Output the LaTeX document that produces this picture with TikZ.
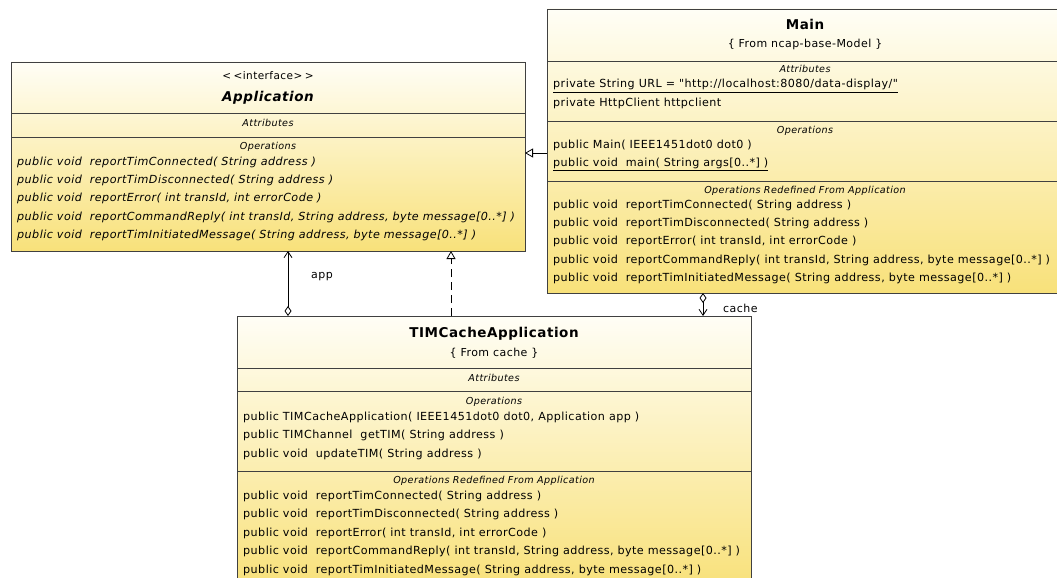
\documentclass[tikz,border=0pt]{standalone}
\usepackage{fontspec}
\setmainfont{DejaVu Sans}[Ligatures=TeXOff, LetterSpace=4]
\usetikzlibrary{arrows.meta}
\definecolor{boxtop}{HTML}{FFFEF6}
\definecolor{boxbot}{HTML}{F8E17A}
\definecolor{edge}{HTML}{404040}
\tikzset{
 umlbox/.style={draw=edge, line width=0.9pt, top color=boxtop, bottom color=boxbot, anchor=north west, inner sep=0pt, outer sep=0pt},
 sep/.style={draw=edge, line width=0.9pt},
 row/.style={anchor=base west, inner sep=0pt, font=\fontsize{11.15}{12}\selectfont},
 irow/.style={anchor=base west, inner sep=0pt, font=\fontsize{11.15}{12}\selectfont\itshape},
 sect/.style={anchor=base, inner sep=0pt, font=\fontsize{9.6}{10}\selectfont\itshape},
 ttl/.style={anchor=base, inner sep=0pt, font=\fontsize{13.5}{15}\selectfont\bfseries},
 sub/.style={anchor=base, inner sep=0pt, font=\fontsize{11}{12}\selectfont},
 conn/.style={draw=black, line width=0.8pt},
 lbl/.style={anchor=base west, inner sep=0pt, font=\fontsize{11}{12}\selectfont},
 navtip/.tip={Straight Barb[length=6pt,width=8pt,line width=0.8pt]},
 aggtip/.tip={Diamond[open,length=10pt,width=7pt,line width=0.8pt]},
 gentip/.tip={Triangle[open,length=8pt,width=9pt,line width=0.8pt,fill=white]},
}
\begin{document}
\begin{tikzpicture}[x=1pt,y=-1pt]
\useasboundingbox (0,0) rectangle (1057,578);
\fill[white] (0,0) rectangle (1057,578);

% ---------- Application ----------
\node[umlbox, minimum width=514, minimum height=189] (appI) at (11,62) {};
\draw[sep] (11,113) -- (525,113);
\draw[sep] (11,137) -- (525,137);
\node[sub, font=\fontsize{10.5}{12}\selectfont] (appS) at (268,80) {<\kern2.5pt<interface>\kern2.5pt>};
\node[ttl, font=\fontsize{13.5}{15}\selectfont\bfseries\itshape] (appT) at (268,101) {Application};
\node[sect] (appA) at (268,126) {Attributes};
\node[sect] (appO) at (268,149) {Operations};
\node[irow] (ap1) at (17,165) {public void~~reportTimConnected( String address )};
\node[irow] (ap2) at (17,183) {public void~~reportTimDisconnected( String address )};
\node[irow] (ap3) at (17,201) {public void~~reportError( int transId, int errorCode )};
\node[irow] (ap4) at (17,220) {public void~~reportCommandReply( int transId, String address, byte message[0..*] )};
\node[irow] (ap5) at (17,238) {public void~~reportTimInitiatedMessage( String address, byte message[0..*] )};

% ---------- Main ----------
\node[umlbox, minimum width=516, minimum height=284] (mainC) at (547,9) {};
\draw[sep] (547,61) -- (1063,61);
\draw[sep] (547,121) -- (1063,121);
\draw[sep] (547,181) -- (1063,181);
\node[ttl] (mainT) at (805,30) {Main};
\node[sub] (mainS) at (805,48) {\{ From ncap-base-Model \}};
\node[sect] (mainA) at (805,73) {Attributes};
\node[row] (ma1) at (553,88) {\underline{private String URL = "http://localhost:8080/data-display/"}};
\node[row] (ma2) at (553,106) {private HttpClient httpclient};
\node[sect] (mainO) at (805,133) {Operations};
\node[row] (mo1) at (553,148) {public Main( IEEE1451dot0 dot0 )};
\node[row] (mo2) at (553,166) {\underline{public void~~main( String args[0..*] )}};
\node[sect] (mainR) at (805,193) {Operations Redefined From Application};
\node[row] (mr1) at (553,208) {public void~~reportTimConnected( String address )};
\node[row] (mr2) at (553,226) {public void~~reportTimDisconnected( String address )};
\node[row] (mr3) at (553,244) {public void~~reportError( int transId, int errorCode )};
\node[row] (mr4) at (553,263) {public void~~reportCommandReply( int transId, String address, byte message[0..*] )};
\node[row] (mr5) at (553,281) {public void~~reportTimInitiatedMessage( String address, byte message[0..*] )};

% ---------- TIMCacheApplication ----------
\node[umlbox, minimum width=514, minimum height=272] (tim) at (237,316) {};
\draw[sep] (237,368) -- (751,368);
\draw[sep] (237,391) -- (751,391);
\draw[sep] (237,471) -- (751,471);
\node[ttl] (timT) at (494,337) {TIMCacheApplication};
\node[sub] (timS) at (494,356) {\{ From cache \}};
\node[sect] (timA) at (494,381) {Attributes};
\node[sect] (timO) at (494,404) {Operations};
\node[row] (to1) at (243,420) {public TIMCacheApplication( IEEE1451dot0 dot0, Application app )};
\node[row] (to2) at (243,438) {public TIMChannel~~getTIM( String address )};
\node[row] (to3) at (243,457) {public void~~updateTIM( String address )};
\node[sect] (timR) at (494,483) {Operations Redefined From Application};
\node[row] (tr1) at (243,499) {public void~~reportTimConnected( String address )};
\node[row] (tr2) at (243,517) {public void~~reportTimDisconnected( String address )};
\node[row] (tr3) at (243,536) {public void~~reportError( int transId, int errorCode )};
\node[row] (tr4) at (243,554) {public void~~reportCommandReply( int transId, String address, byte message[0..*] )};
\node[row] (tr5) at (243,573) {public void~~reportTimInitiatedMessage( String address, byte message[0..*] )};

% ---------- Connectors ----------
\coordinate (appx) at (288,0);
\coordinate (realx) at (451,0);
\coordinate (genY) at (0,153);
\coordinate (cachex) at (703,0);
\draw[conn, aggtip-navtip] (appx |- tim.north) -- (appx |- appI.south);
\draw[conn, dash pattern=on 8pt off 5pt, -gentip] (realx |- tim.north) -- (realx |- appI.south);
\draw[conn, -gentip] (mainC.west |- genY) -- (appI.east |- genY);
\draw[conn, aggtip-navtip] (cachex |- mainC.south) -- (cachex |- tim.north);
\node[lbl] (appL) at (311,278) {app};
\node[lbl] (cacheL) at (723,312) {cache};
\end{tikzpicture}
\end{document}
